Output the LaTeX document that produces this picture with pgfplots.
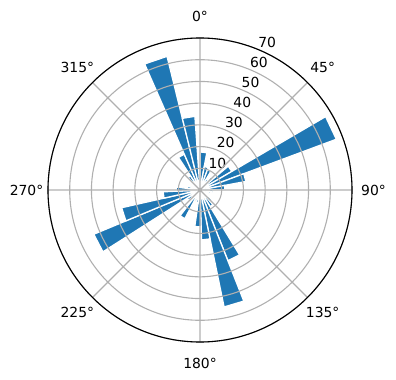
\documentclass[border=0pt]{standalone}
\usepackage{pgfplots}
\pgfplotsset{compat=1.18}
\usepgfplotslibrary{polar}
\usepackage{fontspec}
\setmainfont{DejaVu Sans}
\definecolor{barc}{HTML}{1F77B4}
\definecolor{grd}{HTML}{B0B0B0}
% bar from pgf-angle #1 to pgf-angle #2 (pgf angle = 90 - compass angle), height #3
\newcommand{\wedgebar}[3]{\addplot[fill=barc, draw=white, line width=1.3bp] coordinates {(0,0) (#1,#3) (#2,#3)} -- cycle;}
\newcommand{\rlab}[1]{\node[anchor=south west, inner sep=0pt, yshift=1.5bp] at (axis cs:67.5,#1) {#1};}
\begin{document}
\fontsize{13.9bp}{16bp}\selectfont
\begin{tikzpicture}
\begin{polaraxis}[
  scale only axis, width=304bp, height=304bp,
  ymin=0, ymax=70,
  xtick={0,45,...,315}, xticklabels={},
  ytick={10,20,...,70}, yticklabels={},
  major tick length=0pt,
  grid=major,
  major grid style={color=grd, line width=1.1bp},
  x axis line style={black, line width=1.1bp},
  y axis line style={draw=none},
  axis on top,
  clip=false,
]
\wedgebar{89.57}{79.69}{17.5}
\wedgebar{79.69}{69.81}{11}
\wedgebar{69.81}{59.94}{10}
\wedgebar{59.94}{50.06}{6}
\wedgebar{50.06}{40.18}{8}
\wedgebar{40.18}{30.30}{17}
\wedgebar{30.30}{20.42}{67}
\wedgebar{20.42}{10.55}{21.5}
\wedgebar{10.55}{0.67}{11.5}
\wedgebar{0.67}{350.79}{6}
\wedgebar{350.79}{340.91}{5}
\wedgebar{340.91}{331.03}{4}
\wedgebar{331.03}{321.16}{3}
\wedgebar{321.16}{311.28}{7}
\wedgebar{311.28}{301.40}{9}
\wedgebar{301.40}{291.52}{35}
\wedgebar{291.52}{281.64}{55}
\wedgebar{281.64}{271.77}{23}
\wedgebar{271.77}{261.89}{17}
\wedgebar{261.89}{252.01}{6}
\wedgebar{252.01}{242.13}{5.5}
\wedgebar{242.13}{232.25}{15}
\wedgebar{232.25}{222.38}{4}
\wedgebar{222.38}{212.50}{7}
\wedgebar{212.50}{202.62}{53}
\wedgebar{202.62}{192.74}{37}
\wedgebar{192.74}{182.86}{17}
\wedgebar{182.86}{172.99}{11}
\wedgebar{172.99}{163.11}{6}
\wedgebar{163.11}{153.23}{4}
\wedgebar{153.23}{143.35}{3}
\wedgebar{143.35}{133.47}{5}
\wedgebar{133.47}{123.60}{8}
\wedgebar{123.60}{113.72}{18}
\wedgebar{113.72}{103.84}{63.4}
\wedgebar{103.84}{93.96}{34}
\coordinate (ctr) at (axis cs:0,0);
\node at (axis cs:90,79.9) {0°};
\node at (axis cs:45,79.9) {45°};
\node at (axis cs:0,79.9) {90°};
\node at (axis cs:315,79.9) {135°};
\node at (axis cs:270,79.9) {180°};
\node at (axis cs:225,79.9) {225°};
\node at (axis cs:180,79.9) {270°};
\node at (axis cs:135,79.9) {315°};
\rlab{10}\rlab{20}\rlab{30}\rlab{40}\rlab{50}\rlab{60}\rlab{70}
\end{polaraxis}
\pgfresetboundingbox
\path[use as bounding box] (ctr) ++(-200bp,-190bp) rectangle ++(396bp,380bp);
\end{tikzpicture}
\end{document}
